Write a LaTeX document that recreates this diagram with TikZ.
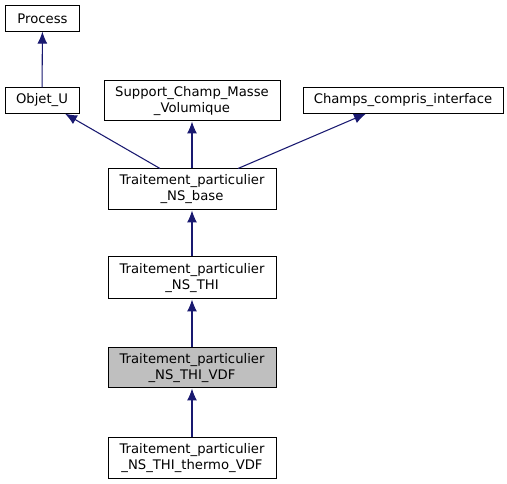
\documentclass[tikz,border=0pt]{standalone}
\usepackage{fontspec}
\usetikzlibrary{arrows.meta}
\setmainfont{DejaVu Sans}
\definecolor{edgeblue}{HTML}{191970}
\definecolor{focusgray}{HTML}{BFBFBF}

\tikzset{
  cls/.style={draw=black, line width=0.75pt, fill=white, inner sep=0pt, align=center,
    font=\fontsize{9.9pt}{12pt}\selectfont},
  onecls/.style={cls, minimum height=19pt},
  twocls/.style={cls, minimum width=126pt, minimum height=30pt},
  inh/.style={-{Latex[length=9pt, width=7.5pt]}, line width=0.8pt, edgeblue}
}

\begin{document}
\begin{tikzpicture}[x=0.75pt, y=-0.75pt]
\useasboundingbox (0,0) rectangle (507,484);

% classes
\node[onecls, minimum width=55pt] (process) at (42.5,18.5) {Process};
\node[onecls, minimum width=55.5pt] (objet) at (42,100.5) {Objet\_U};
\node[cls, minimum width=132pt, minimum height=30pt] (support) at (192,101) {Support\_Champ\_Masse\\\_Volumique};
\node[onecls, minimum width=150pt] (champs) at (403,100.5) {Champs\_compris\_interface};
\node[twocls, minimum height=30.75pt] (base) at (192,189.5) {Traitement\_particulier\\\_NS\_base};
\node[twocls, minimum height=31.5pt] (thi) at (192,278) {Traitement\_particulier\\\_NS\_THI};
\node[twocls, fill=focusgray] (vdf) at (192,368) {Traitement\_particulier\\\_NS\_THI\_VDF};
\node[twocls] (thermo) at (192,458) {Traitement\_particulier\\\_NS\_THI\_thermo\_VDF};

% inheritance
\draw[inh] (objet) to (process);
\draw[inh] (base.north -| 160,0) to (objet.south -| 65,0);
\draw[inh] (base) to (support);
\draw[inh] (base.north -| 238,0) to (champs.south -| 366,0);
\draw[inh] (thi) to (base);
\draw[inh] (vdf) to (thi);
\draw[inh] (thermo) to (vdf);
\end{tikzpicture}
\end{document}
